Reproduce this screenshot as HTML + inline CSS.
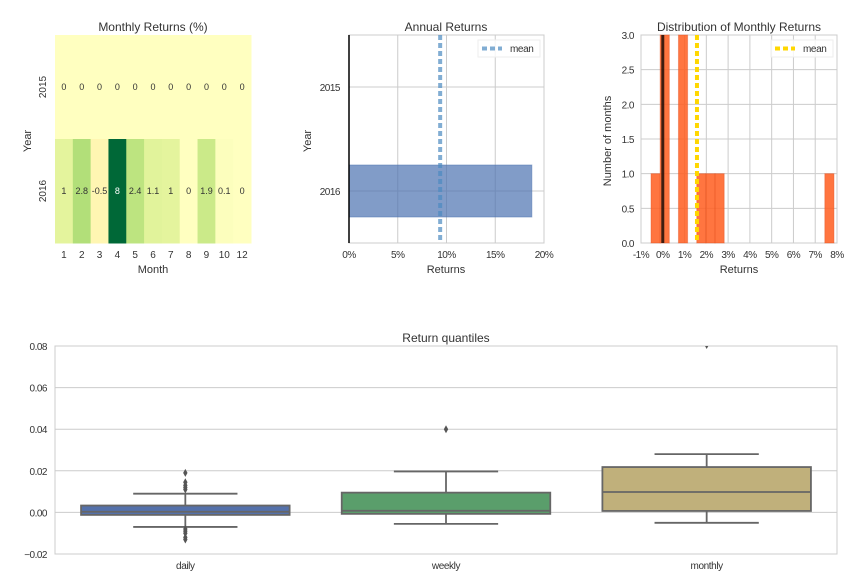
<!DOCTYPE html>
<html><head><meta charset="utf-8">
<style>
body{margin:0;background:#fff;}
svg{display:block;font-family:"Liberation Sans",sans-serif;}
</style></head>
<body>
<svg id="c" width="864" height="587" xmlns="http://www.w3.org/2000/svg"></svg>
<script>
// ---- data ----
const hmMonths=["1","2","3","4","5","6","7","8","9","10","12"];
const hmYears=["2015","2016"];
const hm2015=[0,0,0,0,0,0,0,0,0,0,0];
const hm2016=[1,2.8,-0.5,8,2.4,1.1,1,0,1.9,0.1,0];
const annYears=["2015","2016"];
const annValues=[0,18.75];
const annMean=9.35;
const annTicks=[0,5,10,15,20];
const histEdgesStart=-0.54;
const histBinWidth=0.42;
const histCounts=[1,3,0,3,0,1,1,1,0,0,0,0,0,0,0,0,0,0,0,1];
const histMean=1.57;
const histXTicks=[-1,0,1,2,3,4,5,6,7,8];
const histYTicks=[0,0.5,1,1.5,2,2.5,3];
const boxCats=["daily","weekly","monthly"];
const boxQ1=[-0.0012,-0.0007,0.0007];
const boxMed=[0.0003,0.0008,0.0098];
const boxQ3=[0.0033,0.0095,0.0218];
const boxLo=[-0.007,-0.0055,-0.005];
const boxHi=[0.009,0.0197,0.028];
const boxFliers=[[0.019,0.0145,0.013,0.012,0.011,-0.008,-0.009,-0.01,-0.012,-0.013],[0.040],[0.0805]];
const boxYTicks=[-0.02,0,0.02,0.04,0.06,0.08];

const svg=document.getElementById('c');
const NS="http://www.w3.org/2000/svg";
function mk(tag,attrs,parent){const e=document.createElementNS(NS,tag);for(const k in attrs)e.setAttribute(k,attrs[k]);(parent||svg).appendChild(e);return e;}
function txt(s,x,y,size,anchor,parent,extra){const t=mk('text',Object.assign({x:x,y:y,'font-size':size,'text-anchor':anchor||'middle',fill:'#333'},extra||{}),parent);t.textContent=s;return t;}
function grp(name){const g=mk('g',{});return g;}

// ---- heatmap ----
(function(){
const g=grp('monthly-returns-heatmap');
const L=55,R=251,T=35,B=243;
const cw=(R-L)/hmMonths.length, rh=(B-T)/hmYears.length;
const stops=[[-0.5,[255,246,178]],[0,[255,255,192]],[1,[228,244,157]],[2,[200,233,135]],[3,[172,221,118]],[4,[120,198,121]],[6,[49,163,84]],[8,[0,104,55]]];
function col(v){for(let i=0;i<stops.length-1;i++){const a=stops[i],b=stops[i+1];if(v<=b[0]){const t=(v-a[0])/(b[0]-a[0]);return 'rgb('+a[1].map((c,j)=>Math.round(c+(b[1][j]-c)*t)).join(',')+')';}}return 'rgb(0,104,55)';}
[hm2015,hm2016].forEach((row,ri)=>{row.forEach((v,ci)=>{
 const r=mk('rect',{x:L+ci*cw,y:T+ri*rh,width:cw+0.5,height:rh+0.5,fill:col(v)},g);
 
 
 txt(String(v),L+ci*cw+cw/2,T+ri*rh+rh/2+3,9,'middle',g,{fill:v>5?'#fff':'#333'});
});});
hmMonths.forEach((m,i)=>txt(m,L+i*cw+cw/2,258,10,'middle',g));
hmYears.forEach((y,i)=>txt(y,46,T+i*rh+rh/2,10,'middle',g,{transform:'rotate(-90 46 '+(T+i*rh+rh/2)+')'}));
txt('Monthly Returns (%)',153,31,12,'middle',g);
txt('Month',153,273,11,'middle',g);
txt('Year',31,141,11,'middle',g,{transform:'rotate(-90 31 141)'});
})();

// ---- annual returns ----
(function(){
const g=grp('annual-returns-chart');
const L=349,R=544,T=35,B=243;
const x=v=>L+(v-0)/20*(R-L);
const yc=i=>T+(i+0.5)*(B-T)/annYears.length;
annTicks.forEach(t=>{mk('line',{x1:x(t),x2:x(t),y1:T,y2:B,stroke:'#ccc'},g);txt(t+'%',x(t),258,10,'middle',g,{'letter-spacing':'-0.5'});});
annYears.forEach((y,i)=>{mk('line',{x1:L,x2:R,y1:yc(i),y2:yc(i),stroke:'#ccc'},g);txt(y,340,yc(i)+4,10,'end',g,{'letter-spacing':'-0.5'});});
mk('rect',{x:L,y:T,width:R-L,height:B-T,fill:'none',stroke:'#ccc'},g);
annValues.forEach((v,i)=>{if(v>0){const bh=(B-T)/annYears.length*0.5;const r=mk('rect',{x:x(0),y:yc(i)-bh/2,width:x(v)-x(0),height:bh,fill:'#4c72b0','fill-opacity':0.7,stroke:'#4c72b0','stroke-opacity':0.5},g);}});
mk('line',{x1:L,x2:L,y1:T,y2:B,stroke:'#000','stroke-width':1.5},g);
const ml=mk('line',{x1:x(annMean),x2:x(annMean),y1:T,y2:B,stroke:'#4c8ac0','stroke-opacity':0.7,'stroke-width':4,'stroke-dasharray':'5 3'},g);

const lg=mk('g',{},g);
mk('rect',{x:478,y:40,width:62,height:17,fill:'#fff','fill-opacity':0.8,stroke:'#eee'},lg);
mk('line',{x1:482,x2:502,y1:48.5,y2:48.5,stroke:'#4c8ac0','stroke-opacity':0.7,'stroke-width':4,'stroke-dasharray':'5 3'},lg);
txt('mean',510,52,10,'start',lg,{'letter-spacing':'-0.4'});
txt('Annual Returns',446,31,12,'middle',g);
txt('Returns',446,273,11,'middle',g);
txt('Year',311,141,11,'middle',g,{transform:'rotate(-90 311 141)'});
})();

// ---- histogram ----
(function(){
const g=grp('monthly-distribution-histogram');
const L=641,R=837,T=35,B=243;
const x=v=>L+(v+1)/9*(R-L);
const y=v=>B-v/3*(B-T);
histXTicks.forEach(t=>{mk('line',{x1:x(t),x2:x(t),y1:T,y2:B,stroke:'#ccc'},g);txt(t+'%',x(t),258,10,'middle',g,{'letter-spacing':'-0.5'});});
histYTicks.forEach(t=>{mk('line',{x1:L,x2:R,y1:y(t),y2:y(t),stroke:'#ccc'},g);txt(t.toFixed(1),634,y(t)+4,10,'end',g,{'letter-spacing':'-0.5'});});
mk('rect',{x:L,y:T,width:R-L,height:B-T,fill:'none',stroke:'#ccc'},g);
histCounts.forEach((c,i)=>{if(c>0){const x0=histEdgesStart+i*histBinWidth;const r=mk('rect',{x:x(x0),y:y(c),width:x(x0+histBinWidth)-x(x0),height:B-y(c),fill:'#ff5d1f','fill-opacity':0.85,stroke:'#e05020','stroke-opacity':0.4},g);}});
mk('line',{x1:x(0),x2:x(0),y1:T,y2:B,stroke:'#000','stroke-width':3,'stroke-opacity':0.75},g);
const ml=mk('line',{x1:x(histMean),x2:x(histMean),y1:T,y2:B,stroke:'#ffd700','stroke-width':4,'stroke-dasharray':'5 3'},g);

const lg=mk('g',{},g);
mk('rect',{x:771,y:40,width:62,height:17,fill:'#fff','fill-opacity':0.8,stroke:'#eee'},lg);
mk('line',{x1:775,x2:795,y1:48.5,y2:48.5,stroke:'#ffd700','stroke-width':4,'stroke-dasharray':'5 3'},lg);
txt('mean',803,52,10,'start',lg,{'letter-spacing':'-0.4'});
txt('Distribution of Monthly Returns',739,31,12,'middle',g);
txt('Returns',739,273,11,'middle',g);
txt('Number of months',611,141,11,'middle',g,{transform:'rotate(-90 611 141)'});
})();

// ---- boxplot ----
(function(){
const g=grp('return-quantiles-boxplot');
const L=55,R=837,T=346,B=554;
const defs=mk('defs',{},g);
const cp=mk('clipPath',{id:'boxclip'},defs);
mk('rect',{x:L,y:T,width:R-L,height:B-T},cp);
const y=v=>B-(v+0.02)/0.1*(B-T);
const slot=(R-L)/boxCats.length;
const cx=i=>L+(i+0.5)*slot;
const cols=['#5471ab','#5a9e6b','#c0b07b'];
boxYTicks.forEach(t=>{mk('line',{x1:L,x2:R,y1:y(t),y2:y(t),stroke:'#ccc'},g);txt((t<0?'\u22120.02':t.toFixed(2)),47,y(t)+4,10,'end',g,{'letter-spacing':'-0.5'});});
mk('rect',{x:L,y:T,width:R-L,height:B-T,fill:'none',stroke:'#ccc'},g);
boxCats.forEach((c,i)=>{
 const w=slot*0.8, hw=w/2, X=cx(i);
 const bg=mk('g',{'clip-path':'url(#boxclip)'},g);
 const st={stroke:'#666','stroke-width':1.8};
 mk('line',Object.assign({x1:X,x2:X,y1:y(boxHi[i]),y2:y(boxQ3[i])},st),bg);
 mk('line',Object.assign({x1:X,x2:X,y1:y(boxLo[i]),y2:y(boxQ1[i])},st),bg);
 mk('line',Object.assign({x1:X-hw/2,x2:X+hw/2,y1:y(boxHi[i]),y2:y(boxHi[i])},st),bg);
 mk('line',Object.assign({x1:X-hw/2,x2:X+hw/2,y1:y(boxLo[i]),y2:y(boxLo[i])},st),bg);
 mk('rect',Object.assign({x:X-hw,y:y(boxQ3[i]),width:w,height:y(boxQ1[i])-y(boxQ3[i]),fill:cols[i]},st),bg);
 mk('line',Object.assign({x1:X-hw,x2:X+hw,y1:y(boxMed[i]),y2:y(boxMed[i])},st),bg);
 boxFliers[i].forEach(f=>{const d=mk('path',{d:'M'+X+' '+(y(f)-4)+'L'+(X+2.2)+' '+y(f)+'L'+X+' '+(y(f)+4)+'L'+(X-2.2)+' '+y(f)+'Z',fill:'#555'},bg);});
 txt(c,X,569,10,'middle',g,{'letter-spacing':'-0.4'});
});
txt('Return quantiles',446,342,12,'middle',g);
})();
</script>
</body></html>
